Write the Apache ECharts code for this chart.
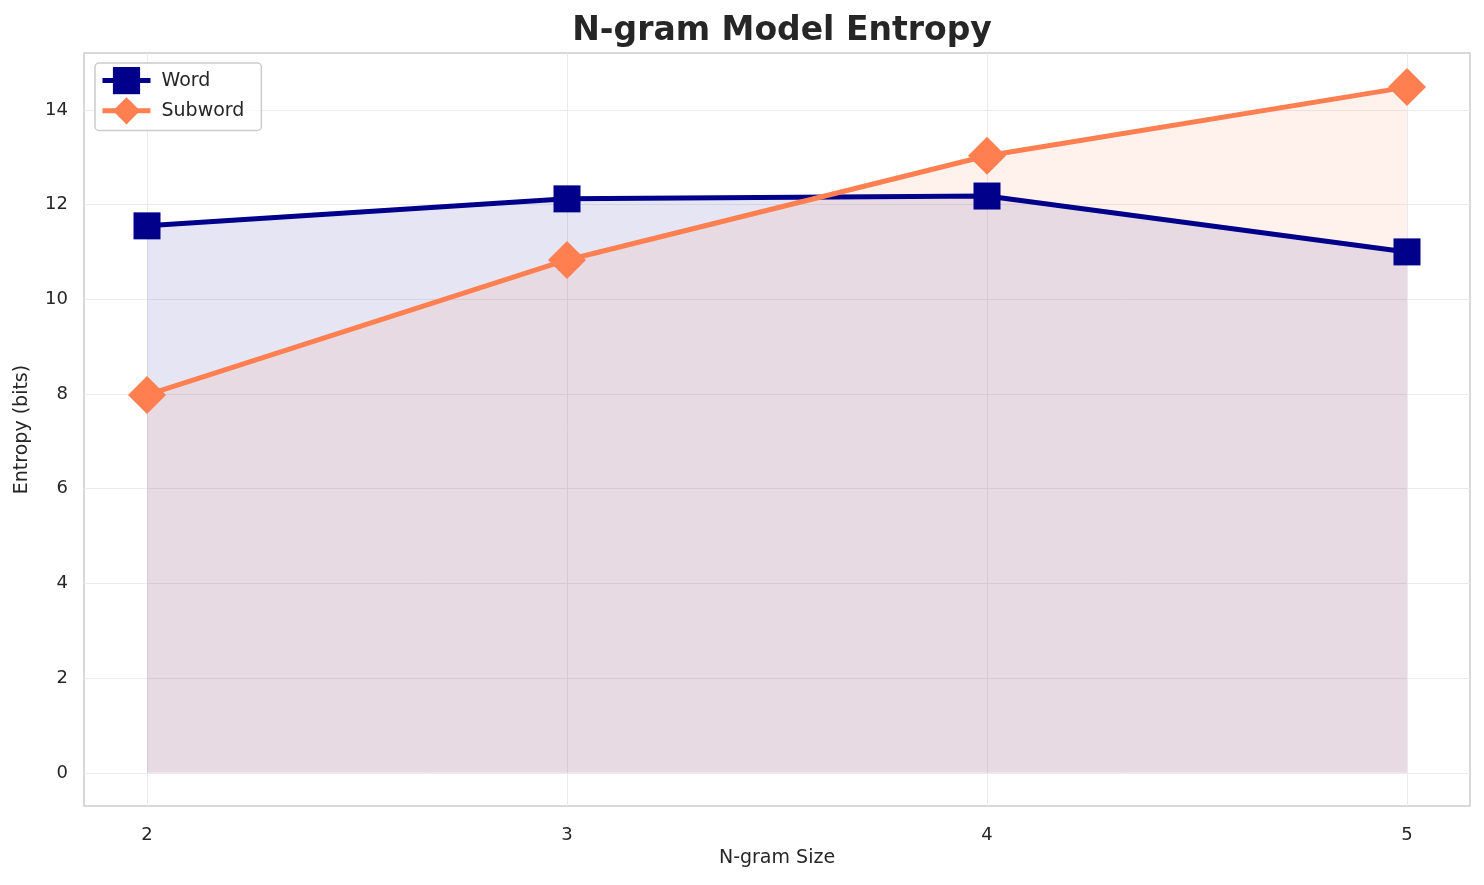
<!DOCTYPE html>
<html>
<head>
<meta charset="utf-8">
<script src="https://cdn.jsdelivr.net/npm/echarts@6/dist/echarts.min.js"></script>
<style>
html,body{margin:0;padding:0;background:#fff;}
#chart{width:1484px;height:885px;}
</style>
</head>
<body>
<div id="chart"></div>
<script>
const nValues = [2, 3, 4, 5];
const wordEntropy = [11.55, 12.12, 12.18, 11.0];
const subwordEntropy = [7.98, 10.83, 13.03, 14.48];
const xTicks = [2, 3, 4, 5];
const yTicks = [0, 2, 4, 6, 8, 10, 12, 14];

const font = 'DejaVu Sans';
const chart = echarts.init(document.getElementById('chart'));
const pairs = (xs, ys) => xs.map((x, i) => [x, ys[i]]);

chart.setOption({
  backgroundColor: '#ffffff',
  animation: false,
  title: {
    text: 'N-gram Model Entropy',
    left: 777, top: 10, textAlign: 'center',
    textStyle: {fontFamily: font, fontSize: 33, fontWeight: 'bold', color: '#262626'}
  },
  legend: {
    left: 95, top: 63, orient: 'vertical',
    itemWidth: 48, itemHeight: 34, itemGap: 3,
    padding: [4, 17, 6, 5],
    borderColor: '#cccccc', borderWidth: 1.5, borderRadius: 4,
    backgroundColor: 'rgba(255,255,255,0.8)',
    lineStyle: {width: 5},
    textStyle: {fontFamily: font, fontSize: 19, color: '#262626', padding: [0, 0, 0, 6]},
    data: ['Word', 'Subword']
  },
  grid: {left: 84, right: 14, top: 53, bottom: 79, containLabel: false,
    show: true, borderColor: '#cccccc', borderWidth: 1.5},
  xAxis: {
    type: 'value', min: 1.85, max: 5.15,
    name: 'N-gram Size', nameLocation: 'middle', nameGap: 42,
    nameTextStyle: {fontFamily: font, fontSize: 19, color: '#262626'},
    axisLine: {show: false},
    axisTick: {show: false, customValues: xTicks},
    axisLabel: {customValues: xTicks, fontFamily: font, fontSize: 18, color: '#262626', margin: 20},
    splitLine: {show: true, lineStyle: {color: '#ebebeb', width: 1}}
  },
  yAxis: {
    type: 'value', min: -0.7, max: 15.2,
    name: 'Entropy (bits)', nameLocation: 'middle', nameGap: 52,
    nameTextStyle: {fontFamily: font, fontSize: 19, color: '#262626'},
    axisLine: {show: false},
    axisTick: {show: false, customValues: yTicks},
    axisLabel: {customValues: yTicks, fontFamily: font, fontSize: 18, color: '#262626', margin: 16},
    splitLine: {show: true, lineStyle: {color: '#ebebeb', width: 1}}
  },
  series: [
    {
      name: 'Word fill', type: 'line', data: pairs(nValues, wordEntropy),
      symbol: 'none', silent: true, lineStyle: {width: 0},
      areaStyle: {color: '#00008b', opacity: 0.1, origin: 0},
      z: 1
    },
    {
      name: 'Subword fill', type: 'line', data: pairs(nValues, subwordEntropy),
      symbol: 'none', silent: true, lineStyle: {width: 0},
      areaStyle: {color: '#ff7f50', opacity: 0.1, origin: 0},
      z: 1
    },
    {
      name: 'Word', type: 'line', data: pairs(nValues, wordEntropy),
      symbol: 'rect', symbolSize: 27,
      itemStyle: {color: '#00008b', opacity: 1},
      lineStyle: {color: '#00008b', width: 5},
      z: 3
    },
    {
      name: 'Subword', type: 'line', data: pairs(nValues, subwordEntropy),
      symbol: 'diamond', symbolSize: 38,
      itemStyle: {color: '#ff7f50', opacity: 1},
      lineStyle: {color: '#ff7f50', width: 5},
      z: 4
    }
  ]
});
</script>
</body>
</html>
